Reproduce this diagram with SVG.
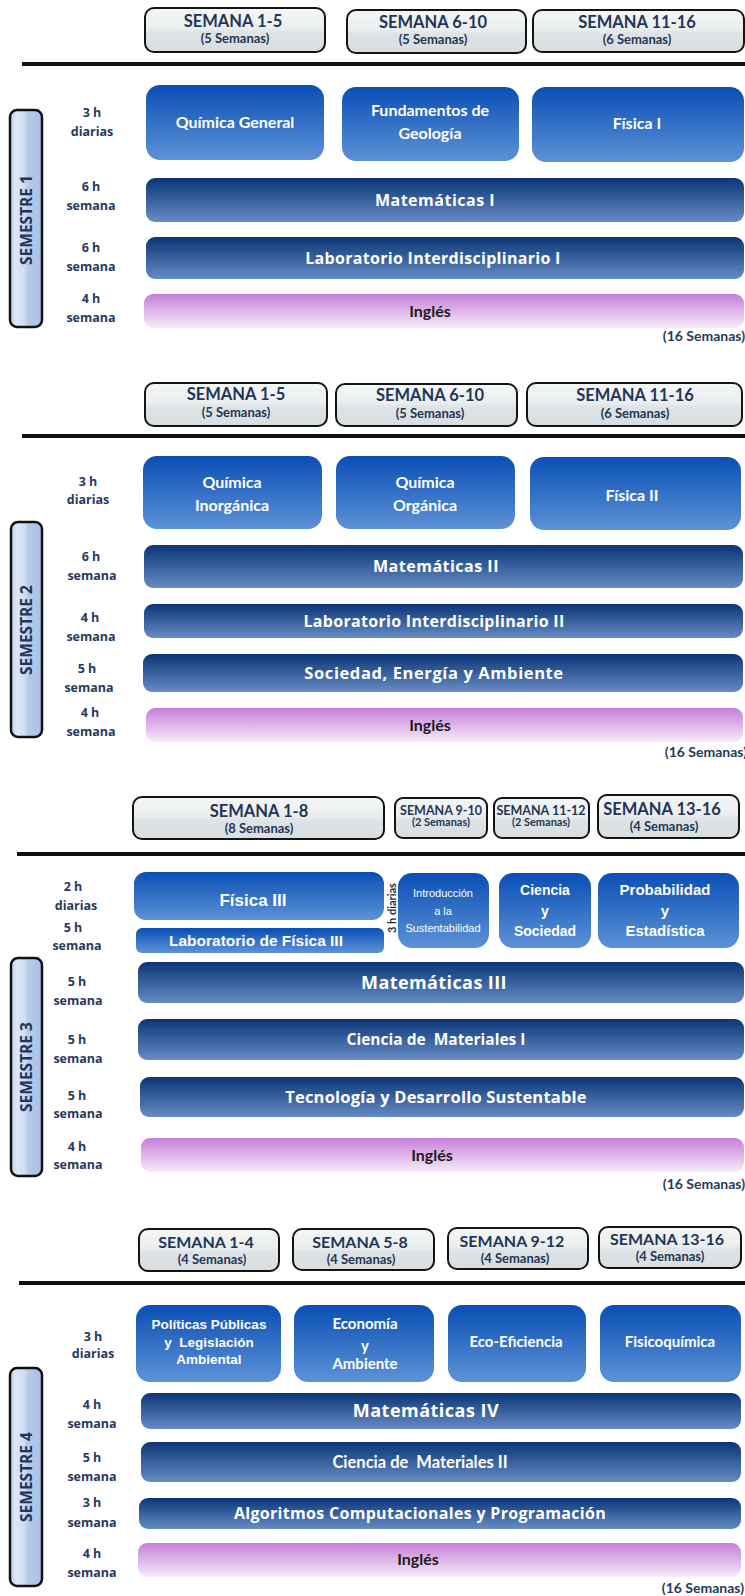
<svg xmlns="http://www.w3.org/2000/svg" width="745" height="1596" viewBox="0 0 745 1596">
<style>
.hdr{fill:url(#gHdr);stroke:#141414;stroke-width:2}
.ht{font-family:Lato,"Open Sans",sans-serif;font-weight:bold;font-size:16.5px;fill:#1f3657;text-anchor:middle}
.hs{font-family:Lato,"Open Sans",sans-serif;font-weight:bold;font-size:13px;fill:#1f3657;text-anchor:middle}
.rule{stroke:#111;stroke-width:4}
.side{fill:url(#gSide);stroke:#111;stroke-width:2.5}
.st{font-family:"Open Sans",sans-serif;font-weight:bold;font-size:15.5px;fill:#1f3657;text-anchor:middle}
.day{fill:url(#gDay)}
.bar{fill:url(#gBar)}
.eng{fill:url(#gEng)}
.wl{font-family:Lato,"Open Sans",sans-serif;font-weight:bold;font-size:16px;fill:#fff;text-anchor:middle}
.wo{font-family:"Open Sans",sans-serif;font-weight:bold;font-size:16px;fill:#fff;text-anchor:middle}
.wa{font-family:"Liberation Sans",Arial,sans-serif;font-weight:bold;font-size:15px;fill:#fff;text-anchor:middle}
.en{font-family:Lato,"Open Sans",sans-serif;font-weight:bold;font-size:16px;fill:#1c1c1c;text-anchor:middle}
.lb{font-family:"Open Sans",sans-serif;font-weight:bold;font-size:12.5px;fill:#253a5e;text-anchor:middle}
.tot{font-family:Lato,"Open Sans",sans-serif;font-weight:bold;font-size:14px;fill:#253a5e;text-anchor:end}
</style>
<defs>
<linearGradient id="gHdr" x1="0" y1="0" x2="0" y2="1">
<stop offset="0" stop-color="#f4f6f6"/><stop offset="0.45" stop-color="#eaeeee"/><stop offset="0.55" stop-color="#dee4e5"/><stop offset="1" stop-color="#d8dee0"/>
</linearGradient>
<linearGradient id="gSide" x1="0" y1="0" x2="1" y2="0">
<stop offset="0" stop-color="#bfd0ee"/><stop offset="0.2" stop-color="#dce6f6"/><stop offset="0.45" stop-color="#cfdcf2"/><stop offset="0.55" stop-color="#b6cbea"/><stop offset="1" stop-color="#a9c0e6"/>
</linearGradient>
<linearGradient id="gDay" x1="0" y1="0" x2="0" y2="1">
<stop offset="0" stop-color="#0a4fb5"/><stop offset="1" stop-color="#5d92d6"/>
</linearGradient>
<linearGradient id="gBar" x1="0" y1="0" x2="0" y2="1">
<stop offset="0" stop-color="#0b3577"/><stop offset="1" stop-color="#668cc4"/>
</linearGradient>
<linearGradient id="gEng" x1="0" y1="0" x2="0" y2="1">
<stop offset="0" stop-color="#c67ed8"/><stop offset="1" stop-color="#f7ecf9"/>
</linearGradient>
</defs>

<g id="separators">
<line class="rule" x1="22" y1="64" x2="745" y2="64"/>
<line class="rule" x1="22" y1="436" x2="745" y2="436"/>
<line class="rule" x1="17" y1="854" x2="745" y2="854"/>
<line class="rule" x1="19" y1="1283" x2="745" y2="1283"/>
</g>

<!-- SEMESTRE 1 -->
<g id="s1-hdr1"><rect class="hdr" x="145" y="8" width="180" height="44" rx="9"/><text class="ht" x="233" y="27">SEMANA 1-5</text><text class="hs" x="235" y="43">(5 Semanas)</text></g>
<g id="s1-hdr2"><rect class="hdr" x="347" y="10" width="179" height="43" rx="9"/><text class="ht" x="433" y="28">SEMANA 6-10</text><text class="hs" x="433" y="44">(5 Semanas)</text></g>
<g id="s1-hdr3"><rect class="hdr" x="533" y="10" width="211" height="42" rx="9"/><text class="ht" x="637" y="28">SEMANA 11-16</text><text class="hs" x="637" y="44">(6 Semanas)</text></g>
<g id="s1-side"><rect class="side" x="10" y="110" width="32" height="217" rx="7"/><text class="st" transform="translate(26,220) rotate(-90)" x="0" y="5.5">SEMESTRE 1</text></g>
<g id="s1-labels">
<text class="lb" x="92" y="117">3 h</text><text class="lb" x="92" y="136">diarias</text>
<text class="lb" x="91" y="191">6 h</text><text class="lb" x="91" y="210">semana</text>
<text class="lb" x="91" y="252">6 h</text><text class="lb" x="91" y="271">semana</text>
<text class="lb" x="91" y="303">4 h</text><text class="lb" x="91" y="322">semana</text>
</g>
<g id="s1-quimica"><rect class="day" x="146" y="85" width="178" height="75" rx="14"/><text class="wl" x="235" y="128">Química General</text></g>
<g id="s1-geologia"><rect class="day" x="342" y="87" width="177" height="74" rx="14"/><text class="wl" x="430" y="116">Fundamentos de</text><text class="wl" x="430" y="139">Geología</text></g>
<g id="s1-fisica"><rect class="day" x="532" y="87" width="212" height="75" rx="14"/><text class="wl" x="637" y="129">Física I</text></g>
<g id="s1-mate"><rect class="bar" x="146" y="178" width="598" height="44" rx="9"/><text class="wo" x="435" y="206" style="letter-spacing:0.5px">Matemáticas I</text></g>
<g id="s1-lab"><rect class="bar" x="146" y="237" width="598" height="42" rx="9"/><text class="wo" x="433" y="264" style="letter-spacing:0.3px">Laboratorio Interdisciplinario I</text></g>
<g id="s1-ingles"><rect class="eng" x="144" y="294" width="600" height="34" rx="9"/><text class="en" x="430" y="317">Inglés</text></g>
<text class="tot" x="745" y="341">(16 Semanas)</text>

<!-- SEMESTRE 2 -->
<g id="s2-hdr1"><rect class="hdr" x="145" y="383" width="182" height="43" rx="9"/><text class="ht" x="236" y="400">SEMANA 1-5</text><text class="hs" x="236" y="417">(5 Semanas)</text></g>
<g id="s2-hdr2"><rect class="hdr" x="336" y="384" width="181" height="42" rx="9"/><text class="ht" x="430" y="401">SEMANA 6-10</text><text class="hs" x="430" y="418">(5 Semanas)</text></g>
<g id="s2-hdr3"><rect class="hdr" x="527" y="383" width="215" height="43" rx="9"/><text class="ht" x="635" y="401">SEMANA 11-16</text><text class="hs" x="635" y="418">(6 Semanas)</text></g>
<g id="s2-side"><rect class="side" x="11" y="522" width="31" height="215" rx="7"/><text class="st" transform="translate(26.5,630) rotate(-90)" x="0" y="5.5">SEMESTRE 2</text></g>
<g id="s2-labels">
<text class="lb" x="88" y="486">3 h</text><text class="lb" x="88" y="504">diarias</text>
<text class="lb" x="91" y="561">6 h</text><text class="lb" x="92" y="580">semana</text>
<text class="lb" x="90" y="622">4 h</text><text class="lb" x="91" y="641">semana</text>
<text class="lb" x="87" y="673">5 h</text><text class="lb" x="89" y="692">semana</text>
<text class="lb" x="90" y="717">4 h</text><text class="lb" x="91" y="736">semana</text>
</g>
<g id="s2-inorg"><rect class="day" x="143" y="456" width="179" height="73" rx="14"/><text class="wl" x="232" y="488">Química</text><text class="wl" x="232" y="511">Inorgánica</text></g>
<g id="s2-org"><rect class="day" x="336" y="456" width="179" height="73" rx="14"/><text class="wl" x="425" y="488">Química</text><text class="wl" x="425" y="511">Orgánica</text></g>
<g id="s2-fisica"><rect class="day" x="530" y="457" width="211" height="73" rx="14"/><text class="wl" x="632" y="501">Física II</text></g>
<g id="s2-mate"><rect class="bar" x="144" y="545" width="599" height="43" rx="9"/><text class="wo" x="436" y="572" style="letter-spacing:0.5px">Matemáticas II</text></g>
<g id="s2-lab"><rect class="bar" x="144" y="604" width="599" height="34" rx="9"/><text class="wo" x="434" y="627" style="letter-spacing:0.3px">Laboratorio Interdisciplinario II</text></g>
<g id="s2-sociedad"><rect class="bar" x="143" y="654" width="600" height="38" rx="9"/><text class="wo" x="434" y="679" style="font-size:16.5px;letter-spacing:0.6px">Sociedad, Energía y Ambiente</text></g>
<g id="s2-ingles"><rect class="eng" x="146" y="708" width="597" height="34" rx="9"/><text class="en" x="430" y="731">Inglés</text></g>
<text class="tot" x="747" y="757">(16 Semanas)</text>

<!-- SEMESTRE 3 -->
<g id="s3-hdr1"><rect class="hdr" x="133" y="797" width="251" height="42" rx="9"/><text class="ht" x="259" y="817">SEMANA 1-8</text><text class="hs" x="259" y="833">(8 Semanas)</text></g>
<g id="s3-hdr2"><rect class="hdr" x="395" y="798" width="92" height="40" rx="8"/><text class="ht" x="441" y="815" style="font-size:12.5px">SEMANA 9-10</text><text class="hs" x="441" y="826" style="font-size:11px">(2 Semanas)</text></g>
<g id="s3-hdr3"><rect class="hdr" x="494" y="798" width="95" height="40" rx="8"/><text class="ht" x="541" y="815" style="font-size:12.5px">SEMANA 11-12</text><text class="hs" x="541" y="826" style="font-size:11px">(2 Semanas)</text></g>
<g id="s3-hdr4"><rect class="hdr" x="598" y="795" width="141" height="43" rx="9"/><text class="ht" x="662" y="815">SEMANA 13-16</text><text class="hs" x="664" y="831">(4 Semanas)</text></g>
<g id="s3-side"><rect class="side" x="11" y="958" width="31" height="218" rx="7"/><text class="st" transform="translate(26.5,1067) rotate(-90)" x="0" y="5.5">SEMESTRE 3</text></g>
<g id="s3-labels">
<text class="lb" x="73" y="891">2 h</text><text class="lb" x="76" y="910">diarias</text>
<text class="lb" x="73" y="932">5 h</text><text class="lb" x="77" y="950">semana</text>
<text class="lb" x="77" y="986">5 h</text><text class="lb" x="78" y="1005">semana</text>
<text class="lb" x="77" y="1044">5 h</text><text class="lb" x="78" y="1063">semana</text>
<text class="lb" x="77" y="1100">5 h</text><text class="lb" x="78" y="1118">semana</text>
<text class="lb" x="77" y="1151">4 h</text><text class="lb" x="78" y="1169">semana</text>
</g>
<g id="s3-fisica"><rect class="day" x="134" y="872" width="250" height="48" rx="12"/><text class="wa" x="253" y="906" style="font-size:17px">Física III</text></g>
<g id="s3-labfisica"><rect class="day" x="136" y="928" width="248" height="25" rx="6"/><text class="wa" x="256" y="946" style="font-size:15.5px">Laboratorio de Física III</text></g>
<text id="s3-3h" transform="translate(392,908) rotate(-90)" x="0" y="4" style="font-family:Lato,'Open Sans',sans-serif;font-weight:bold;font-size:11px;fill:#1c2a44;text-anchor:middle">3 h diarias</text>
<g id="s3-intro"><rect class="day" x="398" y="873" width="91" height="75" rx="14"/>
<text class="wa" x="443" y="897" style="font-size:11px;font-weight:normal">Introducción</text><text class="wa" x="443" y="915" style="font-size:11px;font-weight:normal">a la</text><text class="wa" x="443" y="932" style="font-size:11px;font-weight:normal">Sustentabilidad</text></g>
<g id="s3-ciencia"><rect class="day" x="499" y="873" width="92" height="75" rx="14"/><text class="wa" x="545" y="895" style="font-size:14px">Ciencia</text><text class="wa" x="545" y="916" style="font-size:14px">y</text><text class="wa" x="545" y="936" style="font-size:14px">Sociedad</text></g>
<g id="s3-prob"><rect class="day" x="598" y="873" width="141" height="75" rx="14"/><text class="wa" x="665" y="895">Probabilidad</text><text class="wa" x="665" y="916">y</text><text class="wa" x="665" y="936">Estadística</text></g>
<g id="s3-mate"><rect class="bar" x="138" y="962" width="606" height="41" rx="9"/><text class="wo" x="434" y="989" style="font-size:18px;letter-spacing:0.4px">Matemáticas III</text></g>
<g id="s3-materiales"><rect class="bar" x="138" y="1019" width="606" height="41" rx="9"/><text class="wo" x="436" y="1045" style="font-size:15.5px" xml:space="preserve">Ciencia de  Materiales I</text></g>
<g id="s3-tecno"><rect class="bar" x="140" y="1077" width="604" height="40" rx="9"/><text class="wo" x="436" y="1103" style="font-size:16.5px;letter-spacing:0.2px">Tecnología y Desarrollo Sustentable</text></g>
<g id="s3-ingles"><rect class="eng" x="141" y="1138" width="603" height="34" rx="9"/><text class="en" x="432" y="1161">Inglés</text></g>
<text class="tot" x="745" y="1189">(16 Semanas)</text>

<!-- SEMESTRE 4 -->
<g id="s4-hdr1"><rect class="hdr" x="139" y="1229" width="140" height="42" rx="9"/><text class="ht" x="206" y="1248" style="font-size:16px">SEMANA 1-4</text><text class="hs" x="212" y="1264">(4 Semanas)</text></g>
<g id="s4-hdr2"><rect class="hdr" x="293" y="1229" width="141" height="41" rx="9"/><text class="ht" x="360" y="1248" style="font-size:16px">SEMANA 5-8</text><text class="hs" x="361" y="1264">(4 Semanas)</text></g>
<g id="s4-hdr3"><rect class="hdr" x="448" y="1228" width="140" height="41" rx="9"/><text class="ht" x="512" y="1247" style="font-size:16px">SEMANA 9-12</text><text class="hs" x="515" y="1263">(4 Semanas)</text></g>
<g id="s4-hdr4"><rect class="hdr" x="599" y="1227" width="142" height="41" rx="9"/><text class="ht" x="667" y="1245" style="font-size:16px">SEMANA 13-16</text><text class="hs" x="670" y="1261">(4 Semanas)</text></g>
<g id="s4-side"><rect class="side" x="10" y="1368" width="32" height="218" rx="7"/><text class="st" transform="translate(26,1477) rotate(-90)" x="0" y="5.5">SEMESTRE 4</text></g>
<g id="s4-labels">
<text class="lb" x="93" y="1341">3 h</text><text class="lb" x="93" y="1358">diarias</text>
<text class="lb" x="92" y="1409">4 h</text><text class="lb" x="92" y="1428">semana</text>
<text class="lb" x="92" y="1462">5 h</text><text class="lb" x="92" y="1481">semana</text>
<text class="lb" x="92" y="1507">3 h</text><text class="lb" x="92" y="1527">semana</text>
<text class="lb" x="92" y="1558">4 h</text><text class="lb" x="92" y="1577">semana</text>
</g>
<g id="s4-politicas"><rect class="day" x="136" y="1305" width="145" height="77" rx="14"/><text class="wa" x="209" y="1329" style="font-size:13.5px">Políticas Públicas</text><text class="wa" x="209" y="1347" style="font-size:13.5px" xml:space="preserve">y  Legislación</text><text class="wa" x="209" y="1364" style="font-size:13.5px">Ambiental</text></g>
<g id="s4-economia"><rect class="day" x="294" y="1305" width="140" height="77" rx="14"/><text class="wl" x="365" y="1329" style="font-size:15px">Economía</text><text class="wl" x="365" y="1351" style="font-size:15px">y</text><text class="wl" x="365" y="1369" style="font-size:15px">Ambiente</text></g>
<g id="s4-eco"><rect class="day" x="448" y="1305" width="138" height="77" rx="14"/><text class="wl" x="516" y="1347" style="font-size:15px">Eco-Eficiencia</text></g>
<g id="s4-fisicoq"><rect class="day" x="600" y="1305" width="141" height="77" rx="14"/><text class="wl" x="670" y="1347" style="font-size:15px">Fisicoquímica</text></g>
<g id="s4-mate"><rect class="bar" x="141" y="1393" width="600" height="36" rx="9"/><text class="wo" x="426" y="1417" style="font-size:18px;letter-spacing:0.5px">Matemáticas IV</text></g>
<g id="s4-materiales"><rect class="bar" x="141" y="1442" width="600" height="40" rx="9"/><text class="wl" x="420" y="1468" style="font-size:16.5px" xml:space="preserve">Ciencia de  Materiales II</text></g>
<g id="s4-algoritmos"><rect class="bar" x="139" y="1498" width="602" height="31" rx="9"/><text class="wo" x="420" y="1519" style="letter-spacing:0.3px">Algoritmos Computacionales y Programación</text></g>
<g id="s4-ingles"><rect class="eng" x="138" y="1543" width="603" height="34" rx="9"/><text class="en" x="418" y="1565">Inglés</text></g>
<text class="tot" x="744" y="1593">(16 Semanas)</text>
</svg>
